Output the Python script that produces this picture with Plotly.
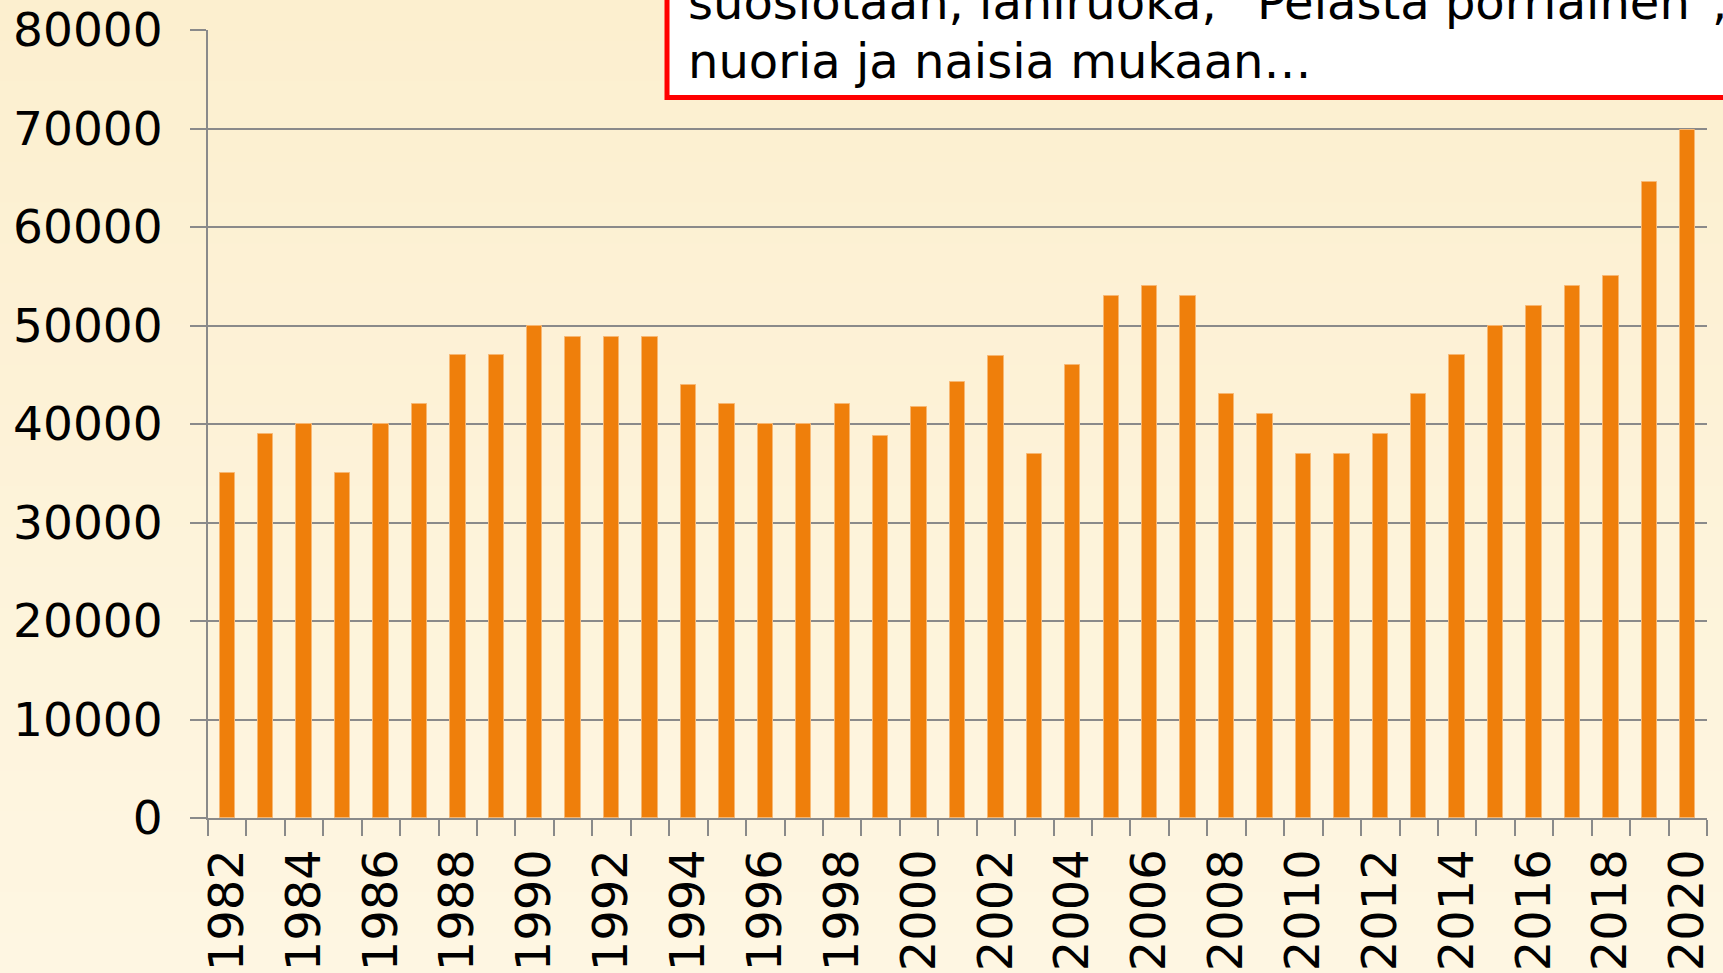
import plotly.graph_objects as go

years = list(range(1982, 2021))
values = [35000, 39000, 40000, 35000, 40000, 42000, 47000, 47000, 50000, 48800,
          48800, 48800, 44000, 42000, 40000, 40000, 42000, 38800, 41700, 44300,
          46900, 37000, 46000, 53000, 54000, 53000, 43000, 41000, 37000, 37000,
          39000, 43000, 47000, 50000, 52000, 54000, 55000, 64600, 69800]
tick_years = [y for y in years if y % 2 == 0]
tick_labels = [str(y) for y in tick_years]
y_ticks = list(range(0, 80001, 10000))
box_text = ["suosiotaan, lähiruoka, ”Pelasta pörriäinen”,",
            "nuoria ja naisia mukaan…"]

W, H = 1723, 973
L, R, T, B = 208, 16, 30, 155
pw, ph = W - L - R, H - T - B

def px_x(p):
    return (p - L) / pw

def px_y(p):
    return (H - B - p) / ph

GRAY = "#8a8a8a"
FONT = "DejaVu Sans"

fig = go.Figure()
fig.add_trace(go.Bar(
    x=years, y=values, width=0.4,
    marker=dict(color="#ef7f0b", line=dict(color="#f7b772", width=1)),
))

fig.update_layout(
    width=W, height=H,
    margin=dict(l=L, r=R, t=T, b=B, autoexpand=False),
    paper_bgcolor="#fdf2d8", plot_bgcolor="rgba(0,0,0,0)",
    showlegend=False, bargap=0,
    font=dict(family=FONT, size=47, color="black"),
)

# soft vertical background gradient (slide background)
top_c, bot_c = (252, 239, 207), (254, 246, 226)
nb = 24
for i in range(nb):
    t = i / (nb - 1)
    c = tuple(round(top_c[k] + (bot_c[k] - top_c[k]) * t) for k in range(3))
    fig.add_shape(type="rect", xref="paper", yref="paper", layer="below",
                  x0=px_x(-5), x1=px_x(W + 5),
                  y0=px_y(H * (i + 1) / nb + 1), y1=px_y(H * i / nb),
                  fillcolor="rgb(%d,%d,%d)" % c, line=dict(width=0))

fig.update_xaxes(
    range=[1981.5, 2020.5], tickmode="array", tickvals=tick_years, ticktext=tick_labels,
    tickangle=-90, ticks="outside", ticklen=16, tickcolor="rgba(0,0,0,0)",
    showgrid=False, zeroline=False, showline=True, linecolor=GRAY, linewidth=2,
    tickfont=dict(family=FONT, size=48),
    minor=dict(tickmode="linear", tick0=1981.5, dtick=1, ticks="outside", ticklen=16,
               tickcolor=GRAY, tickwidth=2, showgrid=False),
    ticklabelstandoff=-6,
)
fig.update_yaxes(
    range=[0, 80000], tickmode="array", tickvals=y_ticks, ticktext=[str(v) for v in y_ticks],
    ticks="outside", ticklen=16, tickcolor=GRAY, tickwidth=2,
    showgrid=True, gridcolor=GRAY, gridwidth=2, zeroline=False,
    showline=True, linecolor=GRAY, linewidth=2,
    tickfont=dict(family=FONT, size=47),
    ticklabelstandoff=18,
)

fig.add_shape(type="rect", xref="paper", yref="paper",
              x0=px_x(667), x1=1.05, y0=px_y(97.5), y1=1.2,
              fillcolor="white", line=dict(color="#ff0000", width=5), layer="above")
for i, line in enumerate(box_text):
    bottom_px = 91 - 58.6 * (len(box_text) - 1 - i)
    fig.add_annotation(xref="paper", yref="paper", x=px_x(686), y=px_y(bottom_px),
                       xanchor="left", yanchor="bottom", align="left", showarrow=False,
                       text=line, font=dict(family=FONT, size=48, color="black"))

fig.write_html("out.html", config={"displayModeBar": False},
               post_script="document.body.style.margin='0';")
